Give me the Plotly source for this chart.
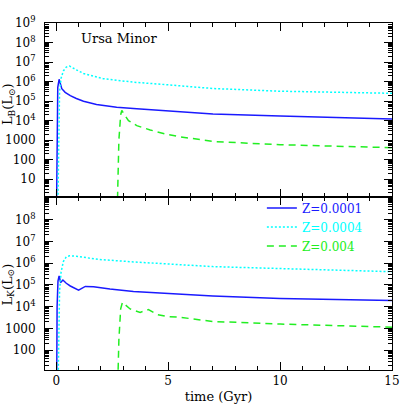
import plotly.graph_objects as go
from plotly.subplots import make_subplots

# ---- data ----
# Top panel: L_B
t_b_z0001 = [0.02, 0.04, 0.07, 0.13, 0.2, 0.25, 0.4, 0.63, 0.9, 1.22, 1.8, 2.7, 3.6, 5.0, 7.0, 10.0, 15.0]
lb_z0001 = [1, 1e4, 5e5, 1.3e6, 6e5, 4.3e5, 2.8e5, 1.9e5, 1.35e5, 9.8e4, 6.6e4, 4.8e4, 4.0e4, 3.1e4, 2.2e4, 1.7e4, 1.2e4]

t_b_z0004 = [0.08, 0.11, 0.15, 0.22, 0.32, 0.45, 0.6, 0.9, 1.22, 2.1, 3.45, 5.0, 7.0, 10.0, 15.0]
lb_z0004 = [1, 1e4, 3e5, 1.5e6, 3.5e6, 5.5e6, 6.2e6, 4.0e6, 2.6e6, 1.4e6, 9.3e5, 6.8e5, 4.4e5, 3.2e5, 2.5e5]

t_b_z004 = [2.74, 2.80, 2.88, 2.93, 3.05, 3.23, 3.6, 4.2, 5.0, 5.5, 7.0, 10.0, 15.0]
lb_z004 = [1, 1e3, 2e4, 3.3e4, 2e4, 1e4, 5.5e3, 3.3e3, 1.9e3, 1.5e3, 850, 580, 410]

# Bottom panel: L_K
t_k_z0001 = [0.02, 0.04, 0.08, 0.13, 0.2, 0.3, 0.45, 0.63, 1.0, 1.3, 1.67, 2.4, 3.45, 5.0, 7.0, 10.0, 15.0]
lk_z0001 = [1, 1e4, 1.5e5, 2.6e5, 1.3e5, 1.7e5, 1.2e5, 9e4, 5.8e4, 8.6e4, 8.3e4, 6.5e4, 5e4, 4.1e4, 3.1e4, 2.4e4, 1.95e4]

t_k_z0004 = [0.08, 0.11, 0.15, 0.22, 0.32, 0.45, 0.6, 0.9, 1.9, 3.45, 5.0, 7.0, 10.0, 15.0]
lk_z0004 = [1, 1e3, 5e4, 4e5, 1.2e6, 2.0e6, 2.2e6, 2.1e6, 1.5e6, 1.15e6, 9e5, 7e5, 5.7e5, 4.1e5]

t_k_z004 = [2.74, 2.80, 2.88, 2.96, 3.3, 3.75, 4.12, 4.5, 5.0, 5.5, 7.0, 10.0, 15.0]
lk_z004 = [1, 3e2, 8e3, 1.6e4, 7.9e3, 5.5e3, 7.4e3, 4.4e3, 3.5e3, 3.3e3, 2.1e3, 1.6e3, 1.15e3]

series_names = ["Z=0.0001", "Z=0.0004", "Z=0.004"]
series_colors = ["#1a1aff", "#00ffff", "#22ee22"]
series_dash = ["solid", "2px,2px", "7px,5px"]

x_ticks = [0, 5, 10, 15]
top_tickvals = [10, 100, 1000, 1e4, 1e5, 1e6, 1e7, 1e8, 1e9]
top_ticktext = ["10", "100", "1000", "10<sup>4</sup>", "10<sup>5</sup>", "10<sup>6</sup>",
                "10<sup>7</sup>", "10<sup>8</sup>", "10<sup>9</sup>"]
bot_tickvals = [100, 1000, 1e4, 1e5, 1e6, 1e7, 1e8]
bot_ticktext = ["100", "1000", "10<sup>4</sup>", "10<sup>5</sup>", "10<sup>6</sup>",
                "10<sup>7</sup>", "10<sup>8</sup>"]

FONT = "DejaVu Serif"

fig = make_subplots(rows=2, cols=1, shared_xaxes=True, vertical_spacing=0)

top = [(t_b_z0001, lb_z0001), (t_b_z0004, lb_z0004), (t_b_z004, lb_z004)]
bot = [(t_k_z0001, lk_z0001), (t_k_z0004, lk_z0004), (t_k_z004, lk_z004)]

for i, (t, v) in enumerate(top):
    fig.add_trace(go.Scatter(x=t, y=v, mode="lines", showlegend=False,
                             line=dict(color=series_colors[i], width=1.5, dash=series_dash[i])),
                  row=1, col=1)
for i, (t, v) in enumerate(bot):
    fig.add_trace(go.Scatter(x=t, y=v, mode="lines",
                             name=f'<span style="color:{series_colors[i]}">{series_names[i]}</span>',
                             line=dict(color=series_colors[i], width=1.5, dash=series_dash[i])),
                  row=2, col=1)

axis_common = dict(showline=True, linecolor="black", linewidth=1, mirror="allticks",
                   ticks="inside", tickcolor="black", showgrid=False, zeroline=False,
                   automargin=False)

xcommon = dict(axis_common, range=[-0.5, 15], tickvals=x_ticks, ticklen=8, tickwidth=1,
               minor=dict(ticks="inside", ticklen=4, dtick=1, tickcolor="black", showgrid=False))
fig.update_xaxes(xcommon, row=1, col=1, showticklabels=False)
fig.update_xaxes(xcommon, row=2, col=1, ticktext=[str(v) for v in x_ticks],
                 title=dict(text="time (Gyr)", font=dict(family=FONT, size=13, color="black"), standoff=4))

ycommon = dict(axis_common, type="log", ticklen=8, tickwidth=1, ticklabelstandoff=6,
               minor=dict(ticks="inside", ticklen=4, dtick="D1", tickcolor="black", showgrid=False))
fig.update_yaxes(ycommon, row=1, col=1, range=[0.11, 9.0], tickvals=top_tickvals, ticktext=top_ticktext)
fig.update_yaxes(ycommon, row=2, col=1, range=[1.09, 9.07], tickvals=bot_tickvals, ticktext=bot_ticktext)

fig.update_layout(
    width=414, height=414,
    margin=dict(l=45, r=22, t=23, b=44),
    plot_bgcolor="white", paper_bgcolor="white",
    font=dict(family=FONT, size=12, color="black"),
    legend=dict(x=0.625, y=0.509, xanchor="left", yanchor="top", bgcolor="rgba(0,0,0,0)",
                font=dict(family=FONT, size=12), itemwidth=30, tracegroupgap=0),
    annotations=[
        dict(text="Ursa Minor", xref="paper", yref="paper", x=0.099, y=0.956,
             xanchor="left", yanchor="middle", showarrow=False,
             font=dict(family=FONT, size=13, color="black")),
        dict(text="L<sub>B</sub>(L<sub>⊙</sub>)", xref="paper", yref="paper", x=-0.105, y=0.765,
             xanchor="center", yanchor="middle", textangle=-90, showarrow=False,
             font=dict(family=FONT, size=13, color="black")),
        dict(text="L<sub>K</sub>(L<sub>⊙</sub>)", xref="paper", yref="paper", x=-0.105, y=0.245,
             xanchor="center", yanchor="middle", textangle=-90, showarrow=False,
             font=dict(family=FONT, size=13, color="black")),
    ],
)

fig.write_html("out.html", config={"displayModeBar": False},
               post_script="document.body.style.margin='0px';")
